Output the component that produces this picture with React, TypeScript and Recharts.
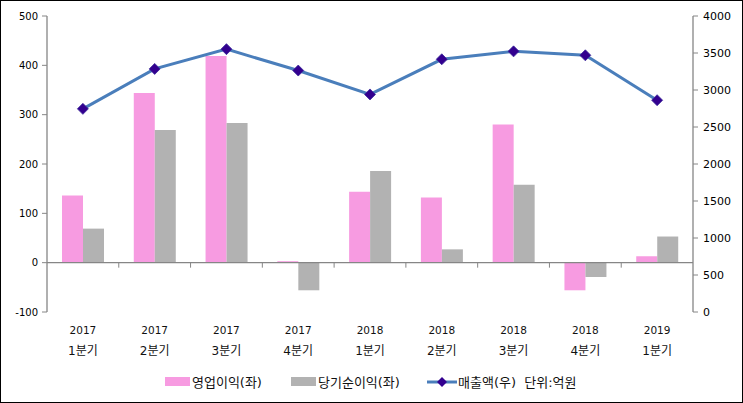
import {
  ComposedChart,
  Bar,
  Line,
  XAxis,
  YAxis,
  ReferenceLine,
} from "recharts";

const years = ["2017", "2017", "2017", "2017", "2018", "2018", "2018", "2018", "2019"];
const quarters = ["1분기", "2분기", "3분기", "4분기", "1분기", "2분기", "3분기", "4분기", "1분기"];
const operatingProfit = [136, 344, 419, 3, 144, 132, 280, -56, 13];
const netIncome = [69, 269, 283, -56, 186, 27, 158, -29, 53];
const revenue = [2745, 3285, 3552, 3263, 2940, 3415, 3522, 3469, 2862];

const leftTicks = [-100, 0, 100, 200, 300, 400, 500];
const rightTicks = [0, 500, 1000, 1500, 2000, 2500, 3000, 3500, 4000];

const PINK = "#f79be1";
const GRAY = "#b2b2b2";
const BLUE = "#4a7ebb";
const NAVY = "#33008f";
const AXIS = "#868686";
const FONT = "'DejaVu Sans', 'Noto Sans CJK KR', sans-serif";

const data = years.map((y, i) => ({
  name: i,
  op: operatingProfit[i],
  net: netIncome[i],
  rev: revenue[i],
}));

function XTick(props: any) {
  const { x, y, payload } = props;
  const i = payload.value;
  return (
    <g>
      <text x={x} y={y} dy={14} textAnchor="middle" fontSize={10.5} fill="#111" fontFamily={FONT}>
        {years[i]}
      </text>
      <text x={x} y={y} dy={35} textAnchor="middle" fontSize={12} fill="#111" fontFamily={FONT}>
        {quarters[i]}
      </text>
    </g>
  );
}

function Diamond(props: any) {
  const { cx, cy } = props;
  if (cx == null || cy == null) return null;
  const r = 5.5;
  return (
    <path
      d={`M${cx},${cy - r} L${cx + r},${cy} L${cx},${cy + r} L${cx - r},${cy} Z`}
      fill={NAVY}
      stroke="#3b2a9a"
      strokeWidth={0.8}
    />
  );
}

function ZeroLine(props: any) {
  const { x1, y1, x2 } = props;
  const n = years.length;
  const step = (x2 - x1) / n;
  const marks = [];
  for (let k = 1; k < n; k++) {
    const x = x1 + step * k;
    marks.push(<line key={k} x1={x} y1={y1} x2={x} y2={y1 + 5} stroke={AXIS} strokeWidth={1} />);
  }
  return (
    <g>
      <line x1={x1} y1={y1} x2={x2} y2={y1} stroke={AXIS} strokeWidth={1.3} />
      {marks}
    </g>
  );
}

export default function App() {
  return (
    <div
      style={{
        position: "fixed",
        left: 0,
        top: 0,
        width: 743,
        height: 403,
        background: "#fff",
        fontFamily: FONT,
      }}
    >
      <ComposedChart
        width={743}
        height={403}
        data={data}
        margin={{ top: 16, right: 0, bottom: 41, left: 0 }}
        barGap={0}
      >
        <XAxis
          dataKey="name"
          xAxisId={0}
          height={50}
          axisLine={false}
          tickLine={false}
          tick={<XTick />}
          interval={0}
        />
        <YAxis
          yAxisId="left"
          width={47}
          domain={[-100, 500]}
          ticks={leftTicks}
          interval={0}
          axisLine={{ stroke: AXIS, strokeWidth: 1.3 }}
          tickLine={{ stroke: AXIS }}
          tickSize={5}
          tickMargin={4}
          tick={{ fontSize: 10, fill: "#000", fontFamily: FONT }}
        />
        <YAxis
          yAxisId="right"
          orientation="right"
          width={50}
          domain={[0, 4000]}
          ticks={rightTicks}
          interval={0}
          axisLine={{ stroke: AXIS, strokeWidth: 1.3 }}
          tickLine={{ stroke: AXIS }}
          tickSize={5}
          tickMargin={5}
          tick={{ fontSize: 11, fill: "#000", fontFamily: FONT, textAnchor: "start" }}
        />
        <ReferenceLine yAxisId="left" y={0} shape={<ZeroLine />} />
        <Bar yAxisId="left" dataKey="op" fill={PINK} barSize={21} isAnimationActive={false} />
        <Bar yAxisId="left" dataKey="net" fill={GRAY} barSize={21} isAnimationActive={false} />
        <Line
          yAxisId="right"
          dataKey="rev"
          stroke={BLUE}
          strokeWidth={3}
          dot={<Diamond />}
          activeDot={false}
          isAnimationActive={false}
        />
      </ComposedChart>
      <div
        style={{
          position: "absolute",
          left: 0,
          top: 372,
          width: 743,
          height: 20,
          fontSize: 13,
          color: "#111",
          fontFamily: FONT,
          whiteSpace: "pre",
        }}
      >
        <span style={{ position: "absolute", left: 165, top: 5, width: 25, height: 9, background: PINK }} />
        <span style={{ position: "absolute", left: 192, top: 0 }}>영업이익(좌)</span>
        <span style={{ position: "absolute", left: 291, top: 5, width: 25, height: 9, background: GRAY }} />
        <span style={{ position: "absolute", left: 318, top: 0 }}>당기순이익(좌)</span>
        <svg style={{ position: "absolute", left: 427, top: 2 }} width={30} height={16}>
          <line x1={0} y1={8} x2={30} y2={8} stroke={BLUE} strokeWidth={3} />
          <path d="M15,3 L20,8 L15,13 L10,8 Z" fill={NAVY} />
        </svg>
        <span style={{ position: "absolute", left: 458, top: 0 }}>{"매출액(우)  단위:억원"}</span>
      </div>
      <div
        style={{
          position: "absolute",
          left: 0,
          top: 0,
          width: 743,
          height: 403,
          boxSizing: "border-box",
          border: "1px solid #000",
          pointerEvents: "none",
        }}
      />
    </div>
  );
}
